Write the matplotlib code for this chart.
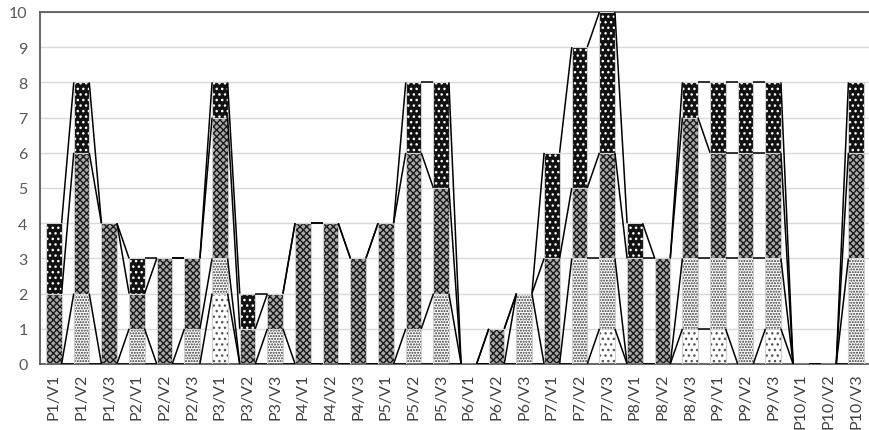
import matplotlib
matplotlib.use("Agg")
import matplotlib.pyplot as plt
import numpy as np

categories = ["P1/V1","P1/V2","P1/V3","P2/V1","P2/V2","P2/V3","P3/V1","P3/V2","P3/V3",
              "P4/V1","P4/V2","P4/V3","P5/V1","P5/V2","P5/V3","P6/V1","P6/V2","P6/V3",
              "P7/V1","P7/V2","P7/V3","P8/V1","P8/V2","P8/V3","P9/V1","P9/V2","P9/V3",
              "P10/V1","P10/V2","P10/V3"]
s1 = [0,0,0, 0,0,0, 2,0,0, 0,0,0, 0,0,0, 0,0,0, 0,0,1, 0,0,1, 1,0,1, 0,0,0]
s2 = [0,2,0, 1,0,1, 1,0,1, 0,0,0, 0,1,2, 0,0,2, 0,3,2, 0,0,2, 2,3,2, 0,0,3]
s3 = [2,4,4, 1,3,2, 4,1,1, 4,4,3, 4,5,3, 0,1,0, 3,2,3, 3,3,4, 3,3,3, 0,0,3]
s4 = [2,2,0, 1,0,0, 1,1,0, 0,0,0, 0,2,3, 0,0,0, 3,4,4, 1,0,1, 2,2,2, 0,0,2]
yticks = [0,1,2,3,4,5,6,7,8,9,10]

plt.rcParams['font.family'] = ['Lato', 'DejaVu Sans']
plt.rcParams['hatch.linewidth'] = 1.0

fig = plt.figure(figsize=(8.7, 4.31), dpi=100)
ax = fig.add_axes([40/870, 1-365/431, 830/870, 352/431])

x = np.arange(len(categories))
w = 0.56
series = [s1, s2, s3, s4]
styles = [
    dict(facecolor='white', hatch_color='#555555', hatch='...'),
    dict(facecolor='white', hatch_color='#333333', hatch='......'),
    dict(facecolor='#aaaaaa', hatch_color='#1a1a1a', hatch='xxxxx'),
    dict(facecolor='#111111', hatch_color='white', hatch='...'),
]
bottom = np.zeros(len(x))
cums = []
for vals, st in zip(series, styles):
    vals = np.array(vals, dtype=float)
    ax.bar(x, vals, w, bottom=bottom, color=st['facecolor'], edgecolor=st['hatch_color'],
           hatch=st['hatch'], linewidth=0, zorder=2)
    ax.bar(x, vals, w, bottom=bottom, facecolor='none', edgecolor='#d0d0d0',
           linewidth=0.8, zorder=3)
    bottom = bottom + vals
    cums.append(bottom.copy())

# series lines
for c in cums:
    for i in range(len(x) - 1):
        ax.plot([x[i] + w/2, x[i+1] - w/2], [c[i], c[i+1]], color='black', lw=1.1,
                zorder=4, solid_capstyle='butt')

ax.set_xlim(-0.5, len(x) - 0.5)
ax.set_ylim(0, 10)
ax.set_yticks(yticks)
ax.set_yticklabels([str(t) for t in yticks], color='#595959', fontsize=11.5)
ax.set_xticks(x)
ax.set_xticklabels(categories, rotation=90, color='#404040', fontsize=11.5)
ax.tick_params(length=0, pad=6)
ax.tick_params(axis='y', pad=9)
ax.yaxis.grid(True, color='#d9d9d9', lw=1, zorder=0)
ax.set_axisbelow(True)
for sp in ax.spines.values():
    sp.set_color('#595959')
    sp.set_linewidth(1.3)

fig.savefig('out.png', dpi=100)
